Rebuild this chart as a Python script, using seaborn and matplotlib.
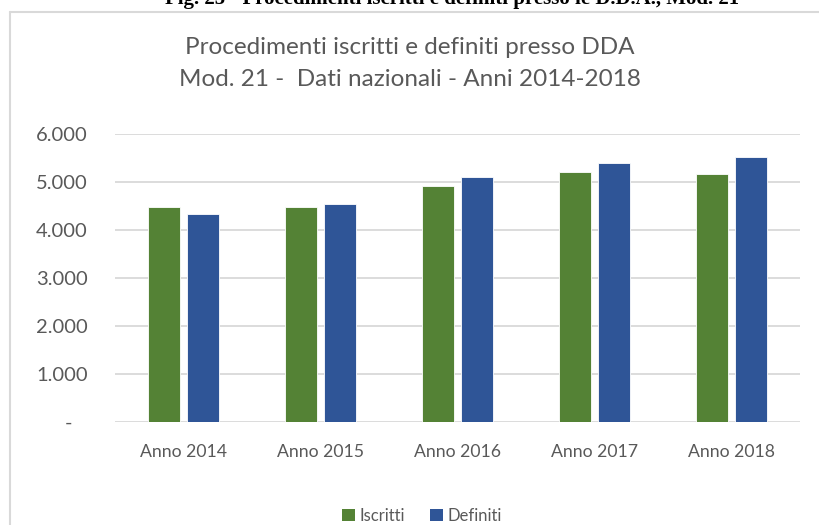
import seaborn as sns
import matplotlib.pyplot as plt
import pandas as pd
from matplotlib.lines import Line2D
from matplotlib.patches import Patch

anni = ["Anno 2014", "Anno 2015", "Anno 2016", "Anno 2017", "Anno 2018"]
iscritti = [4470, 4485, 4910, 5215, 5165]
definiti = [4330, 4545, 5095, 5400, 5515]
serie = ["Iscritti", "Definiti"]
colori = {"Iscritti": "#548235", "Definiti": "#2F5597"}
yticks = [0, 1000, 2000, 3000, 4000, 5000, 6000]
ylabels = ["-   ", "1.000", "2.000", "3.000", "4.000", "5.000", "6.000"]

df = pd.DataFrame({
    "anno": anni * 2,
    "valore": iscritti + definiti,
    "tipo": ["Iscritti"] * len(anni) + ["Definiti"] * len(anni),
})

sns.set_style("white")
plt.rcParams['font.family'] = ['Lato', 'DejaVu Sans']

fig = plt.figure(figsize=(8.19, 5.25), dpi=100)
ax = fig.add_axes([115 / 819, 1 - 422 / 525, 685 / 819, 288 / 525])

sns.barplot(data=df, x="anno", y="valore", hue="tipo", hue_order=serie,
            palette=colori, saturation=1, width=0.57, gap=0.18,
            edgecolor="white", linewidth=0.6, legend=False, ax=ax)

ax.set_xlim(-0.5, 4.5)
ax.set_ylim(0, 6000)
ax.set_yticks(yticks)
ax.set_yticklabels(ylabels, size=14.5, color="#595959")
ax.set_xticks(range(len(anni)))
ax.set_xticklabels(anni, size=12.7, color="#595959")
ax.tick_params(axis="both", length=0)
ax.tick_params(axis="y", pad=19.5)
ax.tick_params(axis="x", pad=16)
ax.set_xlabel("")
ax.set_ylabel("")
ax.yaxis.grid(True, color="#D9D9D9", linewidth=1.3)
ax.set_axisbelow(True)
for s in ax.spines.values():
    s.set_visible(False)

fig.text(410 / 819, 1 - 47 / 525, "Procedimenti iscritti e definiti presso DDA",
         ha="center", va="center", size=17.5, color="#595959")
fig.text(410 / 819, 1 - 79 / 525, "Mod. 21 -  Dati nazionali - Anni 2014-2018",
         ha="center", va="center", size=17.5, color="#595959")

# didascalia della figura, tagliata dal bordo superiore come nell'originale
fig.text(452 / 819, 1 - 4 / 525,
         "Fig. 25 - Procedimenti iscritti e definiti presso le D.D.A., Mod. 21",
         ha="center", va="baseline", size=15, weight="bold",
         family="Liberation Serif", color="black")

fig.add_artist(Line2D([10 / 819, 10 / 819], [0, 1 - 12 / 525],
                      color="#D9D9D9", linewidth=1.5))
fig.add_artist(Line2D([10 / 819, 1], [1 - 12 / 525, 1 - 12 / 525],
                      color="#D9D9D9", linewidth=1.5))

handles = [Patch(facecolor=colori[s], edgecolor="none", label=s) for s in serie]
fig.legend(handles=handles, loc="center", bbox_to_anchor=(422 / 819, 1 - 516 / 525),
           ncol=2, frameon=False, fontsize=12, handlelength=0.75, handleheight=0.75,
           handletextpad=0.3, columnspacing=1.5, labelcolor="#595959")

fig.savefig("out.png", dpi=100)
